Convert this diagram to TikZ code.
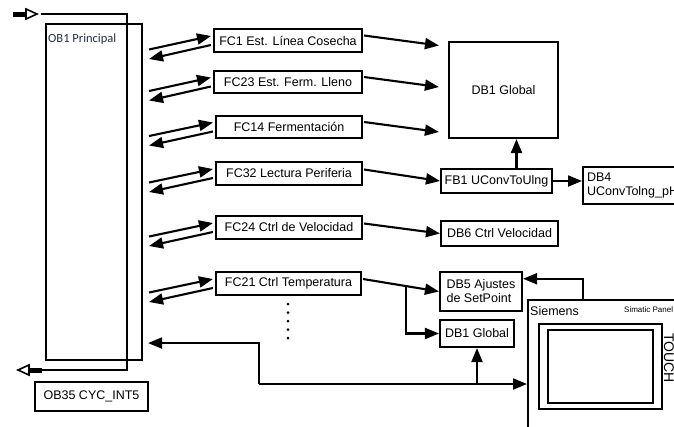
\documentclass[tikz,border=0pt]{standalone}
\usepackage{fontspec}
\setmainfont{Liberation Sans}
\newfontfamily\calibfont{Carlito}
\usetikzlibrary{arrows.meta,calc}
\definecolor{oblabel}{RGB}{35,45,75}
\newcommand\myfs{\fontsize{12.5}{14}\selectfont}
\begin{document}
\begin{tikzpicture}[x=1pt,y=-1pt,
  box/.style={draw, line width=2.1pt, inner sep=0pt, font=\myfs},
  arr/.style={-{Triangle[length=14pt,width=11pt]}, line width=2.1pt},
  plain/.style={line width=2.1pt}]
\useasboundingbox (0,0) rectangle (674,426);
\clip (0,0) rectangle (674,426);

% OB1 and OB35
\node[box, minimum width=96pt, minimum height=336pt] (OB1) at (94,192) {};
\node[anchor=west, font=\calibfont\fontsize{12.5}{14}\selectfont, text=oblabel, inner sep=0pt] (ob1label) at (48,39) {OB1 Principal};
\node[box, minimum width=113pt, minimum height=29pt] (OB35) at (91.5,396.5) {OB35 CYC\_INT5};

% loop line with open arrows
\coordinate (loopin) at (41,14);
\coordinate (loopout) at (41,370);
\draw[plain] (loopin) -| (127,370) -- (loopout);
\fill (13,11.5) rectangle (28,16.5);
\draw[line width=1.6pt, fill=white] (26,9) -- (37,14) -- (26,19) -- cycle;
\fill (29,367.5) rectangle (42,372.5);
\draw[line width=1.6pt, fill=white] (29,365) -- (18,370) -- (29,375) -- cycle;

% FC boxes
\node[box, minimum width=148pt, minimum height=23pt] (FC1) at (288,40.5) {FC1 Est. Línea Cosecha};
\node[box, minimum width=148pt, minimum height=22pt] (FC23) at (288,82) {FC23 Est. Ferm. Lleno\hspace{8pt}};
\node[box, minimum width=146pt, minimum height=22pt] (FC14) at (289,127) {FC14 Fermentación};
\node[box, minimum width=146pt, minimum height=23pt] (FC32) at (289,173.5) {FC32 Lectura Periferia};
\node[box, minimum width=146pt, minimum height=23pt] (FC24) at (289,227.5) {FC24 Ctrl de Velocidad};
\node[box, minimum width=145pt, minimum height=23pt] (FC21) at (288.5,283.5) {FC21 Ctrl Temperatura};

% DB / FB boxes
\node[box, minimum width=109pt, minimum height=96pt] (DB1g) at (503.5,90) {DB1 Global};
\node[box, minimum width=111pt, minimum height=24pt] (FB1) at (496.5,181) {FB1 UConvToUlng};
\node[box, minimum width=110pt, minimum height=37pt, anchor=north west, align=left, inner xsep=4pt, text width=102pt] (DB4) at (582,166) {DB4\\UConvTolng\_pH};
\node[box, minimum width=117pt, minimum height=25pt] (DB6) at (499.5,233.5) {DB6 Ctrl Velocidad};
\node[box, minimum width=82pt, minimum height=39pt, align=left] (DB5) at (481,291.5) {DB5 Ajustes\\de SetPoint};
\node[box, minimum width=74pt, minimum height=27pt] (DB1s) at (477,333.5) {DB1 Global};

% panel
\node[draw, line width=2.1pt, minimum width=180pt, minimum height=160pt, anchor=north west, inner sep=0pt] (panel) at (527,299) {};
\node[anchor=base west, font=\myfs, inner sep=0pt] (siemens) at (530,315) {Siemens};
\node[anchor=west, font=\fontsize{8}{9}\selectfont, inner sep=0pt] (simatic) at (624,310) {Simatic Panel};
\node[draw, line width=2.1pt, minimum width=123pt, minimum height=85pt, inner sep=0pt] (screen) at (600.5,366.5) {};
\node[draw, line width=2.1pt, minimum width=105pt, minimum height=73pt, inner sep=0pt] (screenin) at (600.5,366.5) {};
\node[rotate=-90, anchor=base west, font=\fontsize{14}{16}\selectfont, inner sep=0pt] (touch) at (664,333) {TOUCH};

% OB1 <-> FC arrows
\foreach \f in {FC1,FC23,FC14,FC32,FC24,FC21}{
  \draw[arr] ($(OB1.east |- \f.west)+(6,9)$) -- ($(\f.west)+(-2,-4.5)$);
  \draw[arr] ($(\f.west)+(-2,4.5)$) -- ($(OB1.east |- \f.west)+(6,18.5)$);
}

% FC -> DB1 Global
\foreach \f in {FC1,FC23,FC14}{
  \draw[arr] ($(\f.east)+(1,-5)$) -- ($(DB1g.west |- \f.east)+(-9,5)$);
}
\draw[arr] ($(FC32.east)+(1,-4)$) -- (FB1.west);
\draw[arr] ($(FC24.east)+(1,-4)$) -- (DB6.west);
\draw[arr] ($(FC21.east)+(1,-4.5)$) -- coordinate[pos=0.56] (br) (DB5.west);
\draw[arr] (br) |- (DB1s.west);

% FB1 connections
\coordinate (fbup) at ($(FB1.north)+(20,0)$);
\draw[arr] (fbup) -- (fbup |- DB1g.south);
\draw[arr] (FB1.east) -- (FB1.east -| DB4.west);

% panel -> DB5
\coordinate (ptop) at ($(panel.north west)+(56,0)$);
\draw[arr] (ptop) |- ($(DB5.north east)!0.19!(DB5.south east)$);

% bottom bus
\coordinate (bus) at (259,384);
\coordinate (ob1in) at ($(OB1.south east)+(5,-18)$);
\draw[arr] (bus) |- (ob1in);
\draw[arr] (bus) -- (bus -| panel.west);
\draw[arr] (bus -| DB1s.south) -- (DB1s.south);

% dots
\foreach \k in {0,...,4}{
  \fill (288,304+8.5*\k) circle (1.5pt);
}
\end{tikzpicture}
\end{document}
